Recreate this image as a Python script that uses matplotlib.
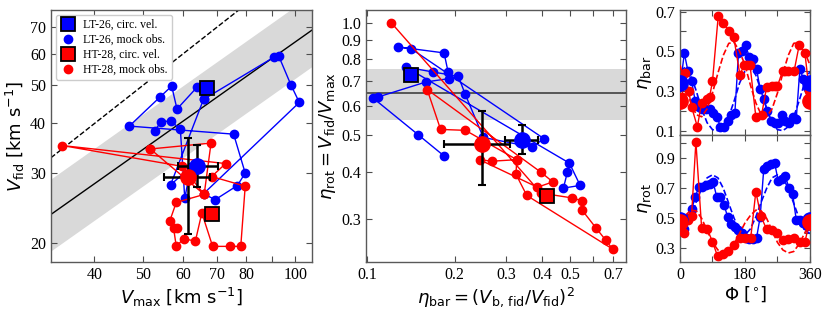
import numpy as np
import matplotlib
matplotlib.use('Agg')
import matplotlib.pyplot as plt
from matplotlib.ticker import FixedLocator, NullLocator

plt.rcParams['font.family'] = 'Liberation Serif'
plt.rcParams['mathtext.fontset'] = 'dejavusans'

BLUE = '#0000ff'
RED = '#ff0000'
LAB = dict(family='DejaVu Sans', fontsize=13)

# ---------------- left panel: Vmax vs Vfid (mock obs. in viewing-angle order)
lt_vmax = [52.7, 54.2, 56.6, 59.2, 60.4, 62.1, 56.6, 65.8, 64.0, 58.3, 56.9, 54.0, 46.9,
           75.5, 79.6, 76.8, 69.4, 65.8, 101.9, 98.1, 92.7, 90.6, 65.8]
lt_vfid = [38.4, 40.4, 40.6, 38.7, 25.9, 31.1, 28.0, 46.0, 49.5, 43.5, 49.7, 46.7, 39.4,
           37.6, 30.0, 27.9, 25.7, 26.6, 45.2, 50.0, 59.3, 58.7, 46.0]
ht_vmax = [51.6, 68.1, 66.0, 59.6, 34.5, 72.8, 68.3, 79.6, 78.0, 74.3, 68.6, 65.3, 63.4,
           60.1, 58.1, 57.4, 58.3, 56.4, 58.1, 66.0, 51.6]
ht_vfid = [34.5, 35.7, 26.5, 31.2, 35.2, 31.7, 29.4, 27.8, 19.6, 19.6, 19.6, 23.8, 20.2,
           20.5, 19.6, 21.8, 21.8, 22.7, 25.3, 26.5, 34.5]
lt_circ = (66.8, 49.2)
ht_circ = (68.5, 23.7)
lt_mean = (63.8, 31.2)
lt_mean_xerr = ([5.3], [6.5])
lt_mean_yerr = ([3.6], [4.2])
ht_mean = (61.2, 29.4)
ht_mean_xerr = ([6.2], [6.6])
ht_mean_yerr = ([8.4], [7.3])

# reference relations
rel_vmax = [32.8, 108.0]
rel_vfid = [23.6, 68.8]
rel_lo = [19.1, 55.7]
rel_hi = [29.0, 84.6]

# ---------------- middle panel: eta_bar vs eta_rot
lt_ebar = [0.184, 0.1496, 0.105, 0.109, 0.160, 0.192, 0.190, 0.184, 0.128, 0.1416, 0.406,
           0.368, 0.251, 0.2175, 0.206, 0.169, 0.136, 0.496, 0.540, 0.473, 0.488]
lt_erot = [0.441, 0.503, 0.629, 0.633, 0.695, 0.709, 0.738, 0.830, 0.861, 0.852, 0.490,
           0.466, 0.494, 0.644, 0.719, 0.738, 0.761, 0.422, 0.368, 0.362, 0.399]
ht_ebar = [0.121, 0.396, 0.505, 0.547, 0.547, 0.613, 0.661, 0.698, 0.354, 0.325, 0.327,
           0.218, 0.179, 0.161, 0.396, 0.435, 0.385, 0.2436, 0.2686, 0.327]
ht_erot = [1.00, 0.351, 0.341, 0.335, 0.317, 0.283, 0.263, 0.249, 0.346, 0.394, 0.431,
           0.516, 0.519, 0.663, 0.399, 0.376, 0.364, 0.431, 0.427, 0.431]
lt_circ_eta = (0.1416, 0.723)
ht_circ_eta = (0.415, 0.344)
lt_mean_eta = (0.340, 0.487)
lt_mean_eta_xerr = ([0.041], [0.048])
lt_mean_eta_yerr = ([0.042], [0.045])
ht_mean_eta = (0.249, 0.475)
ht_mean_eta_xerr = ([0.065], [0.060])
ht_mean_eta_yerr = ([0.107], [0.105])
eta_rot_ref = 0.65
eta_rot_band = (0.55, 0.75)

# ---------------- right panels: eta vs viewing angle
lt_phi = [3, 12, 22, 32, 42, 52, 62, 72, 82, 92, 102, 112, 122, 132, 142, 152, 162, 172,
          182, 192, 202, 212, 222, 232, 242, 252, 262, 272, 282, 292, 302, 312, 322, 332, 342, 352]
lt_ebar_phi = [0.36, 0.49, 0.40, 0.35, 0.25, 0.22, 0.21, 0.21, 0.21, 0.19, 0.17, 0.12, 0.12,
               0.15, 0.18, 0.19, 0.49, 0.50, 0.53, 0.47, 0.46, 0.41, 0.31, 0.26, 0.20, 0.15,
               0.14, 0.14, 0.18, 0.15, 0.14, 0.17, 0.16, 0.41, 0.36, 0.32]
lt_erot_phi = [0.50, 0.43, 0.50, 0.56, 0.64, 0.71, 0.71, 0.72, 0.73, 0.74, 0.64, 0.64, 0.59,
               0.51, 0.46, 0.44, 0.42, 0.40, 0.37, 0.36, 0.36, 0.37, 0.51, 0.83, 0.85, 0.86,
               0.87, 0.75, 0.76, 0.78, 0.70, 0.66, 0.49, 0.49, 0.47, 0.45]
ht_phi_bar = [5, 14, 24, 32, 48, 60, 74, 82, 90, 106, 120, 136, 149, 166, 177, 186, 194,
              210, 226, 240, 254, 262, 270, 284, 292, 300, 316, 330, 346, 358]
ht_ebar_phi = [0.27, 0.39, 0.30, 0.22, 0.12, 0.24, 0.26, 0.27, 0.35, 0.68, 0.645, 0.60,
               0.57, 0.38, 0.43, 0.43, 0.43, 0.17, 0.18, 0.32, 0.325, 0.325, 0.325, 0.40,
               0.40, 0.40, 0.40, 0.53, 0.49, 0.30]
ht_phi_rot = [5, 11, 22, 32, 44, 60, 76, 90, 104, 118, 133, 149, 166, 180, 196, 210, 224,
              240, 254, 270, 284, 300, 316, 332, 346, 358]
ht_erot_phi = [0.47, 0.40, 0.49, 0.515, 1.01, 0.433, 0.427, 0.344, 0.249, 0.262, 0.284,
               0.322, 0.367, 0.373, 0.373, 0.678, 0.515, 0.427, 0.422, 0.40, 0.355, 0.36,
               0.367, 0.344, 0.344, 0.47]
model_phi = [0, 15, 30, 45, 60, 75, 90, 105, 120, 135, 150, 165, 180, 195, 210, 225, 240,
             255, 270, 285, 300, 315, 330, 345, 360]
lt_ebar_model = [0.40, 0.42, 0.38, 0.30, 0.21, 0.14, 0.105, 0.10, 0.12, 0.17, 0.25, 0.34,
                 0.40, 0.42, 0.38, 0.30, 0.21, 0.14, 0.105, 0.10, 0.12, 0.17, 0.25, 0.34, 0.40]
ht_ebar_model = [0.43, 0.33, 0.24, 0.18, 0.17, 0.21, 0.29, 0.39, 0.48, 0.54, 0.545, 0.50,
                 0.43, 0.33, 0.24, 0.18, 0.17, 0.21, 0.29, 0.39, 0.48, 0.54, 0.545, 0.50, 0.43]
lt_erot_model = [0.40, 0.43, 0.51, 0.61, 0.70, 0.77, 0.79, 0.77, 0.70, 0.60, 0.50, 0.42,
                 0.39, 0.43, 0.51, 0.61, 0.70, 0.77, 0.79, 0.77, 0.70, 0.60, 0.50, 0.42, 0.40]
ht_erot_model = [0.47, 0.52, 0.555, 0.55, 0.50, 0.42, 0.34, 0.29, 0.27, 0.28, 0.33, 0.40,
                 0.47, 0.52, 0.555, 0.55, 0.50, 0.42, 0.34, 0.29, 0.27, 0.28, 0.33, 0.40, 0.47]


def style(ax):
    ax.tick_params(direction='in', which='both', top=True, right=True,
                   length=4, width=0.8, labelsize=11.5, color='0.3')
    for s in ax.spines.values():
        s.set_color('0.35')
        s.set_linewidth(1.0)


fig = plt.figure(figsize=(8.31, 3.09), dpi=100)

# ---------- left
ax1 = fig.add_axes([0.0614, 0.1521, 0.3141, 0.8155])
ax1.set_xscale('log')
ax1.set_yscale('log')
ax1.fill_between(rel_vmax, rel_lo, rel_hi, color='#d9d9d9', lw=0, zorder=0)
ax1.plot(rel_vmax, rel_vfid, color='k', lw=1.0, zorder=1)
ax1.plot(rel_vmax, rel_vmax, color='k', lw=1.0, ls='--', zorder=1)
ax1.plot(lt_vmax, lt_vfid, '-o', color=BLUE, ms=6, lw=1, zorder=2)
ax1.plot(ht_vmax, ht_vfid, '-o', color=RED, ms=6, lw=1, zorder=2)
ax1.plot(*lt_circ, 's', color=BLUE, mec='k', mew=1.3, ms=10, zorder=5)
ax1.plot(*ht_circ, 's', color=RED, mec='k', mew=1.3, ms=10, zorder=5)
ax1.errorbar(*lt_mean, xerr=lt_mean_xerr, yerr=lt_mean_yerr, fmt='o', color=BLUE, ms=11,
             ecolor='k', elinewidth=1.8, capsize=3, capthick=1.5, zorder=4)
ax1.errorbar(*ht_mean, xerr=ht_mean_xerr, yerr=ht_mean_yerr, fmt='o', color=RED, ms=11,
             ecolor='k', elinewidth=1.8, capsize=3, capthick=1.5, zorder=4)
ax1.set_xlim(32.8, 108)
ax1.set_ylim(17.9, 77.3)
ax1.xaxis.set_major_locator(FixedLocator([40, 50, 60, 70, 80, 90, 100]))
ax1.set_xticklabels(['40', '50', '60', '70', '80', '', '100'])
ax1.xaxis.set_minor_locator(NullLocator())
ax1.yaxis.set_major_locator(FixedLocator([20, 30, 40, 50, 60, 70]))
ax1.set_yticklabels(['20', '30', '40', '50', '60', '70'])
ax1.yaxis.set_minor_locator(NullLocator())
ax1.set_xlabel(r'$V_{\rm max}$ [km s$^{-1}$]', labelpad=2, **LAB)
ax1.set_ylabel(r'$V_{\rm fid}$ [km s$^{-1}$]', labelpad=2, **LAB)
style(ax1)
h1, = ax1.plot([], [], 's', color=BLUE, mec='k', mew=1.3, ms=10)
h2, = ax1.plot([], [], 'o', color=BLUE, ms=6)
h3, = ax1.plot([], [], 's', color=RED, mec='k', mew=1.3, ms=10)
h4, = ax1.plot([], [], 'o', color=RED, ms=6)
ax1.legend([h1, h2, h3, h4],
           ['LT-26, circ. vel.', 'LT-26, mock obs.', 'HT-28, circ. vel.', 'HT-28, mock obs.'],
           loc='upper left', fontsize=8.5, borderaxespad=0.4, handlelength=1.4,
           labelspacing=0.25, borderpad=0.35, handletextpad=0.6,
           fancybox=True, framealpha=1, edgecolor='0.8')

# ---------- middle
ax2 = fig.add_axes([0.4404, 0.1521, 0.3129, 0.8155])
ax2.set_xscale('log')
ax2.set_yscale('log')
ax2.axhspan(*eta_rot_band, color='#d9d9d9', lw=0, zorder=0)
ax2.axhline(eta_rot_ref, color='0.25', lw=1.2, zorder=1)
ax2.plot(lt_ebar, lt_erot, '-o', color=BLUE, ms=6, lw=1, zorder=2)
ax2.plot(ht_ebar, ht_erot, '-o', color=RED, ms=6, lw=1, zorder=2)
ax2.plot(*lt_circ_eta, 's', color=BLUE, mec='k', mew=1.3, ms=10, zorder=5)
ax2.plot(*ht_circ_eta, 's', color=RED, mec='k', mew=1.3, ms=10, zorder=5)
ax2.errorbar(*lt_mean_eta, xerr=lt_mean_eta_xerr, yerr=lt_mean_eta_yerr, fmt='o', color=BLUE,
             ms=11, ecolor='k', elinewidth=1.8, capsize=3, capthick=1.5, zorder=4)
ax2.errorbar(*ht_mean_eta, xerr=ht_mean_eta_xerr, yerr=ht_mean_eta_yerr, fmt='o', color=RED,
             ms=11, ecolor='k', elinewidth=1.8, capsize=3, capthick=1.5, zorder=4)
ax2.set_xlim(0.0992, 0.776)
ax2.set_ylim(0.23, 1.08)
ax2.xaxis.set_major_locator(FixedLocator([0.1, 0.2, 0.3, 0.4, 0.5, 0.6, 0.7]))
ax2.set_xticklabels(['0.1', '0.2', '0.3', '0.4', '0.5', '', '0.7'])
ax2.xaxis.set_minor_locator(NullLocator())
yt = [0.3, 0.4, 0.5, 0.6, 0.7, 0.8, 0.9, 1.0]
ax2.yaxis.set_major_locator(FixedLocator(yt))
ax2.set_yticklabels([f'{v:.1f}' for v in yt])
ax2.yaxis.set_minor_locator(NullLocator())
ax2.set_xlabel(r'$\eta_{\rm bar} = (V_{\rm b,\,fid}/V_{\rm fid})^2$', labelpad=2, **LAB)
ax2.set_ylabel(r'$\eta_{\rm rot} = V_{\rm fid}/V_{\rm max}$', labelpad=2, **LAB)
style(ax2)

# ---------- right
ax3 = fig.add_axes([0.8183, 0.5631, 0.1564, 0.4045])
ax4 = fig.add_axes([0.8183, 0.1521, 0.1564, 0.4110])
for ax in (ax3, ax4):
    ax.set_xlim(0, 360)
    ax.xaxis.set_major_locator(FixedLocator([0, 90, 180, 270, 360]))

ax3.plot(lt_phi, lt_ebar_phi, '-o', color=BLUE, ms=6, lw=1, zorder=2)
ax3.plot(ht_phi_bar, ht_ebar_phi, '-o', color=RED, ms=6, lw=1, zorder=3)
ax3.plot(model_phi, lt_ebar_model, '--', color=BLUE, lw=1.2, zorder=2)
ax3.plot(model_phi, ht_ebar_model, '--', color=RED, lw=1.2, zorder=3)
ax3.plot([0, 360], [lt_mean_eta[0]] * 2, 'o', color=BLUE, ms=11, lw=0, zorder=4)
ax3.plot([0, 360], [ht_mean_eta[0]] * 2, 'o', color=RED, ms=11, lw=0, zorder=4)
ax3.set_ylim(0.078, 0.708)
ax3.yaxis.set_major_locator(FixedLocator([0.1, 0.2, 0.3, 0.4, 0.5, 0.6, 0.7]))
ax3.set_yticklabels(['0.1', '', '0.3', '', '0.5', '', '0.7'])
ax3.set_xticklabels([])
ax3.set_ylabel(r'$\eta_{\rm bar}$', labelpad=1, **LAB)

ax4.plot(lt_phi, lt_erot_phi, '-o', color=BLUE, ms=6, lw=1, zorder=2)
ax4.plot(ht_phi_rot, ht_erot_phi, '-o', color=RED, ms=6, lw=1, zorder=3)
ax4.plot(model_phi, lt_erot_model, '--', color=BLUE, lw=1.2, zorder=2)
ax4.plot(model_phi, ht_erot_model, '--', color=RED, lw=1.2, zorder=3)
ax4.plot([0, 360], [lt_mean_eta[1]] * 2, 'o', color=BLUE, ms=11, lw=0, zorder=4)
ax4.plot([0, 360], [ht_mean_eta[1]] * 2, 'o', color=RED, ms=11, lw=0, zorder=4)
ax4.set_ylim(0.21, 1.055)
ax4.yaxis.set_major_locator(FixedLocator([0.3, 0.4, 0.5, 0.6, 0.7, 0.8, 0.9, 1.0]))
ax4.set_yticklabels(['0.3', '', '0.5', '', '0.7', '', '0.9', ''])
ax4.set_xticklabels(['0', '', '180', '', '360'])
ax4.set_xlabel(r'$\Phi$ [$^{\circ}$]', labelpad=1, **LAB)
ax4.set_ylabel(r'$\eta_{\rm rot}$', labelpad=1, **LAB)
for ax in (ax3, ax4):
    style(ax)

fig.savefig('out.png', dpi=100)
